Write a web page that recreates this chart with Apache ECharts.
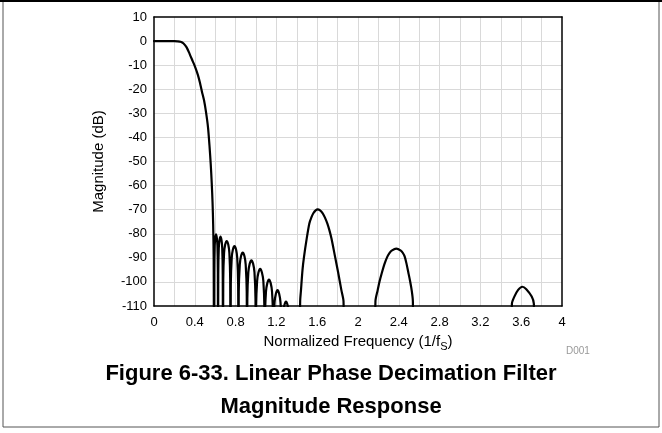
<!DOCTYPE html>
<html>
<head>
<meta charset="utf-8">
<script src="https://cdn.jsdelivr.net/npm/echarts@6/dist/echarts.min.js"></script>
<style>
html,body{margin:0;padding:0;background:#fff;}
#chart{width:662px;height:433px;}
</style>
</head>
<body>
<div id="chart"></div>
<script>
// ---- data ----
const xTickLabels = ['0','0.4','0.8','1.2','1.6','2','2.4','2.8','3.2','3.6','4'];
const yTickLabels = ['-110','-100','-90','-80','-70','-60','-50','-40','-30','-20','-10','0','10'];

// passband and main roll-off
const passFreq = [0, 0.05, 0.1, 0.15, 0.2, 0.23, 0.26, 0.29, 0.32, 0.35, 0.38, 0.40, 0.43, 0.45, 0.47, 0.49, 0.51, 0.53, 0.545, 0.556, 0.566, 0.574, 0.58, 0.585];
const passDb   = [0, 0, 0, 0, 0, -0.1, -0.3, -1, -2.6, -5.4, -8.4, -10.4, -14, -17.2, -21, -24.5, -29.5, -36, -44, -51, -59, -67, -76, -90];

// stopband ripple lobes (nulls fall far below the -110 dB floor)
const rippleFreq = [0.589,0.591,0.595,0.601,0.608,0.616,0.622,0.626,0.628,
  0.630,0.635,0.642,0.652,0.662,0.669,0.674,0.676,
  0.679,0.687,0.698,0.713,0.728,0.739,0.747,0.750,
  0.753,0.762,0.773,0.789,0.805,0.816,0.825,0.828,
  0.831,0.841,0.853,0.870,0.887,0.899,0.909,0.912,
  0.915,0.925,0.938,0.955,0.972,0.985,0.995,0.998,
  1.001,1.011,1.024,1.041,1.058,1.072,1.082,1.085,
  1.088,1.098,1.111,1.127,1.144,1.157,1.167,1.170,
  1.173,1.182,1.195,1.211,1.227,1.240,1.250,1.253,
  1.256,1.265,1.278,1.294,1.310,1.323,1.332,1.335];
const rippleDb = [-150,-96,-85,-81.7,-80.2,-81.7,-85,-96,-150,
  -97,-86,-82.7,-81.2,-82.7,-86,-97,-150,
  -99,-88,-84.5,-83,-84.5,-88,-99,-150,
  -101,-90,-86.6,-85.1,-86.6,-90,-101,-150,
  -104,-92.8,-89.3,-87.8,-89.3,-92.8,-104,-150,
  -107,-96,-92.5,-91,-92.5,-96,-107,-150,
  -110.6,-99.6,-96.1,-94.6,-96.1,-99.6,-110.6,-150,
  -115,-104,-100.5,-99,-100.5,-104,-115,-150,
  -119.4,-108.4,-104.9,-103.4,-104.9,-108.4,-119.4,-150,
  -124,-113.2,-109.7,-108.2,-109.7,-113.2,-124,-150];

// image lobes
const lobe1Freq = [1.425,1.433,1.441,1.456,1.471,1.497,1.523,1.545,1.562,1.585,1.605,1.625,1.654,1.675,1.699,1.72,1.74,1.775,1.805,1.837,1.858,1.868];
const lobe1Db   = [-150,-108,-103.4,-95,-89.5,-82,-75.7,-73,-71.5,-70.3,-69.9,-70.2,-71.5,-73.2,-75.7,-78.6,-82,-89.5,-96,-103.4,-108,-150];
const lobe2Freq = [2.163,2.171,2.193,2.21,2.232,2.260,2.288,2.31,2.33,2.375,2.42,2.44,2.458,2.475,2.493,2.51,2.526,2.538,2.546];
const lobe2Db   = [-150,-108,-103.4,-100,-96.5,-92.5,-89.5,-87.9,-87,-86.2,-87,-88,-89.5,-92.3,-96,-99.5,-103.4,-108,-150];
const lobe3Freq = [3.495,3.509,3.533,3.57,3.611,3.65,3.703,3.724,3.74,4];
const lobe3Db   = [-150,-109,-106.1,-103.3,-102,-103,-106.1,-109,-150,-150];

// ---- build ----
function pairs(f, d){ return f.map((v,i)=>[v, d[i]]); }
const curve = [].concat(
  pairs(passFreq, passDb),
  pairs(rippleFreq, rippleDb),
  pairs(lobe1Freq, lobe1Db),
  pairs(lobe2Freq, lobe2Db),
  pairs(lobe3Freq, lobe3Db)
);

const FONT = "'Liberation Sans', Arial, Helvetica, sans-serif";
const gridColor = '#d9d9d9';
const chart = echarts.init(document.getElementById('chart'), null, {renderer:'canvas'});

chart.setOption({
  animation: false,
  backgroundColor: '#fff',
  textStyle: {fontFamily: FONT},
  title: [{
    text: 'Figure 6-33. Linear Phase Decimation Filter\nMagnitude Response',
    left: 'center',
    top: 352,
    textStyle: {fontFamily: FONT, fontSize: 22, fontWeight: 'bold', color: '#000', lineHeight: 33}
  },{
    text: 'D001',
    left: 561,
    top: 341,
    textStyle: {fontFamily: FONT, fontSize: 10, fontWeight: 'normal', color: '#999'}
  }],
  grid: {left: 154, right: 100, top: 17, bottom: 127, containLabel: false},
  xAxis: [{
    type: 'value', min: 0, max: 4, interval: 0.4, position: 'bottom',
    name: '{n|Normalized Frequency (1/f}{s|S}{n|)}',
    nameLocation: 'middle', nameGap: 20,
    nameTextStyle: {rich: {
      n: {fontFamily: FONT, fontSize: 15, color: '#000', lineHeight: 19, verticalAlign: 'top'},
      s: {fontFamily: FONT, fontSize: 11, color: '#000', lineHeight: 11, verticalAlign: 'bottom'}
    }},
    axisLine: {show: true, onZero: false, lineStyle: {color: '#000', width: 1.5}},
    axisTick: {show: false},
    axisLabel: {margin: 10, fontSize: 13, color: '#000', fontFamily: FONT,
      formatter: (v, i) => xTickLabels[i]},
    splitLine: {show: true, showMinLine: false, showMaxLine: false, lineStyle: {color: gridColor, width: 1}},
    minorTick: {show: false, splitNumber: 2},
    minorSplitLine: {show: true, lineStyle: {color: gridColor, width: 1}}
  },{
    type: 'value', min: 0, max: 4, interval: 0.4, position: 'top',
    axisLine: {show: true, onZero: false, lineStyle: {color: '#000', width: 1.5}},
    axisTick: {show: false}, axisLabel: {show: false}, splitLine: {show: false}
  }],
  yAxis: [{
    type: 'value', min: -110, max: 10, interval: 10, position: 'left',
    name: 'Magnitude (dB)', nameLocation: 'middle', nameGap: 48, nameRotate: 90,
    nameTextStyle: {fontFamily: FONT, fontSize: 15, color: '#000'},
    axisLine: {show: true, onZero: false, lineStyle: {color: '#000', width: 1.5}},
    axisTick: {show: false},
    axisLabel: {margin: 7, fontSize: 13, color: '#000', fontFamily: FONT,
      formatter: (v, i) => yTickLabels[i]},
    splitLine: {show: true, showMinLine: false, showMaxLine: false, lineStyle: {color: gridColor, width: 1}}
  },{
    type: 'value', min: -110, max: 10, interval: 10, position: 'right',
    axisLine: {show: true, onZero: false, lineStyle: {color: '#000', width: 1.5}},
    axisTick: {show: false}, axisLabel: {show: false}, splitLine: {show: false}
  }],
  series: [{
    type: 'line',
    xAxisIndex: 0, yAxisIndex: 0,
    data: curve,
    showSymbol: false,
    clip: true,
    smooth: 0.25,
    lineStyle: {color: '#000', width: 2.2, join: 'round', cap: 'round'},
    z: 3
  }],
  graphic: [
    {type: 'rect', silent: true, z: 100, shape: {x: 3, y: 1, width: 656, height: 426},
     style: {fill: 'none', stroke: '#555', lineWidth: 1}},
    {type: 'line', silent: true, z: 101, shape: {x1: 0, y1: 1, x2: 662, y2: 1},
     style: {stroke: '#000', lineWidth: 2}}
  ]
});
</script>
</body>
</html>
